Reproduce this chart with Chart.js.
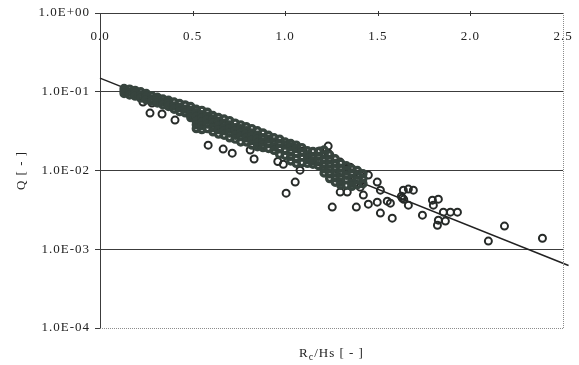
<!DOCTYPE html>
<html>
<head>
<meta charset="utf-8">
<script src="https://cdn.jsdelivr.net/npm/chart.js@4.4.1/dist/chart.umd.min.js"></script>
<style>
  html, body { margin: 0; padding: 0; background: #fff; }
  #wrap { width: 579px; height: 365px; }
</style>
</head>
<body>
<div id="wrap"><canvas id="qChart"></canvas></div>
<script>
// ==== Data ====
// dense band of overlapping markers: [Rc/Hs, [Q values in that column]]
const bandColumns = [
  [0.13, [0.110, 0.102, 0.095]],
  [0.16, [0.108, 0.099, 0.091]],
  [0.19, [0.104, 0.095, 0.088]],
  [0.22, [0.100, 0.091, 0.083]],
  [0.25, [0.095, 0.087, 0.079]],
  [0.28, [0.089, 0.081, 0.076]],
  [0.31, [0.085, 0.078, 0.072]],
  [0.34, [0.081, 0.074, 0.068]],
  [0.37, [0.078, 0.071, 0.065]],
  [0.40, [0.074, 0.066, 0.060]],
  [0.43, [0.071, 0.063, 0.056]],
  [0.46, [0.068, 0.060, 0.054]],
  [0.49, [0.065, 0.058, 0.051, 0.047]],
  [0.52, [0.060, 0.054, 0.048, 0.042, 0.038, 0.034]],
  [0.55, [0.058, 0.051, 0.046, 0.041, 0.037, 0.033]],
  [0.58, [0.055, 0.049, 0.044, 0.039, 0.034]],
  [0.61, [0.050, 0.045, 0.040, 0.035, 0.031]],
  [0.64, [0.047, 0.042, 0.037, 0.033, 0.029]],
  [0.67, [0.045, 0.040, 0.035, 0.032, 0.028]],
  [0.70, [0.043, 0.038, 0.034, 0.030, 0.026]],
  [0.73, [0.040, 0.035, 0.032, 0.028, 0.025]],
  [0.76, [0.038, 0.034, 0.030, 0.027, 0.023]],
  [0.79, [0.036, 0.032, 0.029, 0.026, 0.023]],
  [0.82, [0.034, 0.030, 0.027, 0.024, 0.021]],
  [0.85, [0.032, 0.028, 0.025, 0.022, 0.020]],
  [0.88, [0.030, 0.026, 0.023, 0.021, 0.0195]],
  [0.91, [0.028, 0.025, 0.022, 0.019]],
  [0.94, [0.026, 0.023, 0.020, 0.018]],
  [0.97, [0.025, 0.022, 0.019, 0.016]],
  [1.00, [0.023, 0.021, 0.018, 0.0155]],
  [1.03, [0.022, 0.020, 0.0174, 0.0151, 0.0132]],
  [1.06, [0.021, 0.019, 0.0166, 0.0141, 0.0123]],
  [1.09, [0.0195, 0.017, 0.0148, 0.0126]],
  [1.12, [0.0178, 0.0158, 0.0138, 0.0123]],
  [1.15, [0.0174, 0.0151, 0.0132, 0.0120]],
  [1.18, [0.0174, 0.0151, 0.0132, 0.0115]],
  [1.21, [0.0182, 0.0158, 0.0138, 0.0120, 0.0105, 0.0093]],
  [1.24, [0.0158, 0.0138, 0.0120, 0.0105, 0.0091, 0.0079]],
  [1.27, [0.0141, 0.0123, 0.0107, 0.0093, 0.0081, 0.0071]],
  [1.30, [0.0123, 0.0107, 0.0093, 0.0081, 0.0071, 0.0065]],
  [1.33, [0.0115, 0.0100, 0.0087, 0.0076, 0.0065]],
  [1.36, [0.0105, 0.0091, 0.0079, 0.0069, 0.0063]],
  [1.39, [0.0100, 0.0087, 0.0076, 0.0066]],
  [1.42, [0.0091, 0.0079, 0.0068]]
];

// single markers away from the band: [Rc/Hs, Q]
const scatterPoints = [
  [0.232, 0.074], [0.281, 0.0718], [0.270, 0.0536], [0.335, 0.0521], [0.405, 0.0437],
  [0.584, 0.0210], [0.665, 0.0187], [0.714, 0.0166], [0.832, 0.0140], [0.811, 0.0182],
  [0.96, 0.0130], [0.99, 0.0120], [1.08, 0.0101], [1.005, 0.00516], [1.054, 0.00713],
  [1.097, 0.0177], [1.146, 0.0171], [1.189, 0.0177], [1.232, 0.0204], [1.232, 0.0166],
  [1.297, 0.0128], [1.335, 0.0107], [1.351, 0.0110], [1.405, 0.00875],
  [1.449, 0.00875], [1.497, 0.00713], [1.514, 0.00563], [1.422, 0.00487], [1.405, 0.00615],
  [1.335, 0.00532], [1.297, 0.00532],
  [1.254, 0.00343], [1.384, 0.00343], [1.449, 0.00374], [1.497, 0.00396], [1.514, 0.00288],
  [1.551, 0.00408], [1.578, 0.00248], [1.568, 0.00385],
  [1.638, 0.00563], [1.665, 0.00581], [1.692, 0.00563], [1.632, 0.00446], [1.627, 0.00470],
  [1.640, 0.00430], [1.665, 0.00363],
  [1.741, 0.00271], [1.795, 0.00420], [1.827, 0.00433], [1.800, 0.00363],
  [1.854, 0.00296], [1.892, 0.00296], [1.930, 0.00296],
  [1.827, 0.00234], [1.865, 0.00228], [1.822, 0.00202],
  [2.097, 0.00127], [2.184, 0.00197], [2.389, 0.00138]
];

// fitted trend line end points
const fitX = [0, 2.53];
const fitQ = [0.149, 0.000621];

// axis ticks
const xTickValues = [0, 0.5, 1.0, 1.5, 2.0, 2.5];
const xTickLabels = ['0.0', '0.5', '1.0', '1.5', '2.0', '2.5'];
const yTickValues = [1e-4, 1e-3, 1e-2, 1e-1, 1];
const yTickLabels = ['1.0E-04', '1.0E-03', '1.0E-02', '1.0E-01', '1.0E+00'];

// ==== Build datasets ====
const bandData = [];
bandColumns.forEach(([x, qs]) => qs.forEach(q => bandData.push({ x: x, y: q })));
const scatterData = scatterPoints.map(([x, q]) => ({ x: x, y: q }));
const fitData = fitX.map((x, i) => ({ x: x, y: fitQ[i] }));

const serif = "'Liberation Serif', 'DejaVu Serif', serif";
Chart.defaults.font.family = serif;
Chart.defaults.font.size = 13;
Chart.defaults.color = '#222';

// borders, small top ticks and axis titles
const frame = {
  id: 'frame',
  beforeDraw(chart) {
    chart.ctx.letterSpacing = '1px';
  },
  afterDraw(chart) {
    const { ctx, chartArea: a, scales } = chart;
    ctx.save();
    ctx.strokeStyle = '#8c8c8c';
    ctx.lineWidth = 1;
    ctx.setLineDash([1, 1]);
    ctx.beginPath();
    ctx.moveTo(Math.round(a.right) + 0.5, a.top);
    ctx.lineTo(Math.round(a.right) + 0.5, Math.round(a.bottom) + 0.5);
    ctx.lineTo(a.left, Math.round(a.bottom) + 0.5);
    ctx.stroke();
    ctx.setLineDash([]);

    ctx.strokeStyle = '#333';
    ctx.beginPath();
    xTickValues.slice(1, -1).forEach(v => {
      const px = Math.round(scales.x.getPixelForValue(v)) + 0.5;
      ctx.moveTo(px, a.top - 2);
      ctx.lineTo(px, a.top + 3);
    });
    ctx.stroke();

    ctx.fillStyle = '#222';
    // y title
    ctx.save();
    ctx.translate(22, (a.top + a.bottom) / 2);
    ctx.rotate(-Math.PI / 2);
    ctx.font = '13px ' + serif;
    ctx.textAlign = 'center';
    ctx.textBaseline = 'middle';
    ctx.fillText('Q [ - ]', 0, 0);
    ctx.restore();

    // x title with subscript c
    const big = '13px ' + serif, small = '10px ' + serif;
    ctx.font = big;
    const wR = ctx.measureText('R').width;
    const wRest = ctx.measureText('/Hs [ - ]').width;
    ctx.font = small;
    const wC = ctx.measureText('c').width;
    let cx = (a.left + a.right) / 2 - (wR + wC + wRest) / 2;
    const base = 357;
    ctx.textAlign = 'left';
    ctx.textBaseline = 'alphabetic';
    ctx.font = big;
    ctx.fillText('R', cx, base);
    cx += wR;
    ctx.font = small;
    ctx.fillText('c', cx, base + 3);
    cx += wC;
    ctx.font = big;
    ctx.fillText('/Hs [ - ]', cx, base);
    ctx.restore();
  }
};

new Chart(document.getElementById('qChart'), {
  type: 'scatter',
  data: {
    datasets: [
      {
        data: bandData,
        pointStyle: 'circle',
        pointRadius: 3,
        borderWidth: 3.4,
        borderColor: '#37443e',
        backgroundColor: 'rgba(0,0,0,0)'
      },
      {
        data: scatterData,
        pointStyle: 'circle',
        pointRadius: 3.5,
        borderWidth: 2,
        borderColor: '#262a28',
        backgroundColor: 'rgba(0,0,0,0)'
      },
      {
        data: fitData,
        showLine: true,
        pointRadius: 0,
        borderColor: '#222',
        borderWidth: 1.5,
        clip: false
      }
    ]
  },
  options: {
    responsive: true,
    maintainAspectRatio: false,
    animation: false,
    events: [],
    layout: { padding: { left: 0, top: 13, right: 16, bottom: 37 } },
    plugins: { legend: { display: false }, tooltip: { enabled: false } },
    scales: {
      x: {
        type: 'linear',
        position: { y: 1 },
        min: 0,
        max: 2.5,
        afterBuildTicks: axis => { axis.ticks = xTickValues.map(v => ({ value: v })); },
        afterFit: axis => {
          axis.paddingLeft = 0;
          axis.paddingRight = 0;
          axis.paddingTop = 0;
          axis.paddingBottom = 0;
        },
        ticks: {
          padding: 16,
          callback: (v, i) => xTickLabels[i]
        },
        grid: { display: false, drawTicks: false },
        border: { display: false }
      },
      y: {
        type: 'logarithmic',
        position: 'left',
        min: 1e-4,
        max: 1,
        afterBuildTicks: axis => { axis.ticks = yTickValues.map(v => ({ value: v })); },
        afterFit: axis => { axis.width = 100; },
        ticks: {
          padding: 5,
          autoSkip: false,
          callback: (v, i) => yTickLabels[i]
        },
        grid: {
          color: c => (c.tick && c.tick.value === 1e-4) ? 'rgba(0,0,0,0)' : '#3c3c3c',
          tickColor: '#3c3c3c',
          tickLength: 5,
          lineWidth: 1
        },
        border: { display: true, color: '#3c3c3c', width: 1 }
      }
    }
  },
  plugins: [frame]
});
</script>
</body>
</html>
